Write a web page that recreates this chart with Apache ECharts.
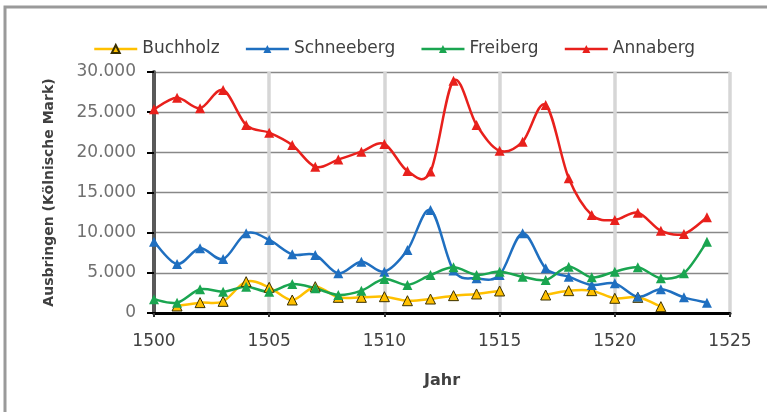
<!DOCTYPE html>
<html>
<head>
<meta charset="utf-8">
<script src="https://cdn.jsdelivr.net/npm/echarts@6/dist/echarts.min.js"></script>
<style>html,body{margin:0;padding:0;background:#fff;}#c{width:767px;height:412px;}</style>
</head>
<body>
<div id="c"></div>
<script>
const years = [1500,1501,1502,1503,1504,1505,1506,1507,1508,1509,1510,1511,1512,1513,1514,1515,1516,1517,1518,1519,1520,1521,1522,1523,1524];
const buchholz   = [null,870,1290,1450,3900,3200,1620,3280,1950,1950,2030,1530,1740,2160,2370,2740,null,2240,2780,2780,1830,1950,790,null,null];
const schneeberg = [8880,6100,8050,6720,9920,9090,7300,7220,4940,6390,5150,7840,12820,5300,4320,4730,9920,5560,4520,3490,3690,2030,2950,1950,1290];
const freiberg   = [1700,1290,2950,2650,3280,2650,3610,3070,2240,2780,4230,3490,4730,5690,4730,5150,4520,4110,5770,4440,5150,5690,4320,4940,8880];
const annaberg   = [25360,26800,25500,27760,23400,22450,20900,18200,19100,20080,21040,17680,17600,28920,23400,20200,21330,25900,16770,12200,11580,12490,10250,9840,11910];
const seriesNames = ['Buchholz','Schneeberg','Freiberg','Annaberg'];
const seriesColors = ['#FFC000','#1F6FC0','#1AA550','#E8201C'];
const seriesData = [buchholz, schneeberg, freiberg, annaberg];

const chart = echarts.init(document.getElementById('c'), null, {renderer:'canvas'});
const FONT = 'DejaVu Sans';
const LW = 2.5;

// Excel-like smoothed line (Catmull-Rom) drawn segment by segment through the axes' coordinate system
function curveSeries(i){
  const vals = seriesData[i];
  return {
    type:'custom', z:2 + i*0.01, silent:true,
    renderItem:(params, api)=>{
      const k = params.dataIndex;
      if (vals[k]==null || k+1>=years.length || vals[k+1]==null) return null;
      const P = j => api.coord([years[j], vals[j]]);
      const p1 = P(k), p2 = P(k+1);
      const p0 = (k-1>=0 && vals[k-1]!=null) ? P(k-1) : p1;
      const p3 = (k+2<years.length && vals[k+2]!=null) ? P(k+2) : p2;
      const t = 1/6;
      return {
        type:'bezierCurve',
        shape:{x1:p1[0],y1:p1[1],x2:p2[0],y2:p2[1],
               cpx1:p1[0]+(p2[0]-p0[0])*t, cpy1:p1[1]+(p2[1]-p0[1])*t,
               cpx2:p2[0]-(p3[0]-p1[0])*t, cpy2:p2[1]-(p3[1]-p1[1])*t},
        style:{stroke:seriesColors[i], lineWidth:LW, fill:null, lineCap:'round'}
      };
    },
    data: years.map((y,k)=>[y, vals[k]==null ? 0 : vals[k]])
  };
}
const series = [];
seriesNames.forEach((n,i)=>{
  series.push(curveSeries(i));
  series.push({
    name:n, type:'line', z:3 + i*0.01, connectNulls:false,
    symbol:'triangle', symbolSize:10, showSymbol:true,
    lineStyle:{color:seriesColors[i], width:LW, opacity:0},
    itemStyle:{color:seriesColors[i], borderColor: i===0 ? '#3a3000' : seriesColors[i], borderWidth: i===0 ? 1 : 0},
    data: years.map((y,k)=>[y, seriesData[i][k]])
  });
});
chart.setOption({
  animation:false,
  backgroundColor:'#fff',
  graphic:[{type:'rect', shape:{x:5,y:7,width:900,height:500}, style:{fill:'none', stroke:'#9a9a9a', lineWidth:3}, z:-10}],
  legend:{
    data:seriesNames.map((n,i)=>({name:n, lineStyle:{color:seriesColors[i], width:LW, opacity:1}})),
    left:93, top:40, padding:0, itemWidth:43, itemHeight:10, itemGap:25,
    textStyle:{fontFamily:FONT, fontSize:17, color:'#404040', lineHeight:18}
  },
  grid:{left:154, right:37, top:72, bottom:99, containLabel:false},
  xAxis:{
    type:'value', min:1500, max:1525, interval:5,
    name:'Jahr', nameLocation:'middle', nameGap:60,
    nameTextStyle:{fontFamily:FONT, fontSize:16, fontWeight:'bold', color:'#404040'},
    axisLine:{show:true, onZero:false, lineStyle:{color:'#000', width:3}},
    axisTick:{show:true, length:4, lineStyle:{color:'#333', width:2}},
    axisLabel:{margin:20, fontFamily:FONT, fontSize:17, color:'#404040', formatter:v=>String(v)},
    splitLine:{show:true, lineStyle:{color:'#d6d6d6', width:3.5}}
  },
  yAxis:{
    type:'value', min:0, max:30000, interval:5000,
    name:'Ausbringen (Kölnische Mark)', nameLocation:'middle', nameGap:98, nameRotate:90,
    nameTextStyle:{fontFamily:FONT, fontSize:14, fontWeight:'bold', color:'#404040'},
    axisLine:{show:true, lineStyle:{color:'#595959', width:4}},
    axisTick:{show:true, length:7, lineStyle:{color:'#000', width:2}},
    axisLabel:{margin:18, fontFamily:FONT, fontSize:17, color:'#707070',
      formatter:v=>String(v).replace(/\B(?=(\d{3})+(?!\d))/g,'.')},
    splitLine:{show:true, lineStyle:{color:'#888', width:1.3}}
  },
  series:series
});
</script>
</body>
</html>
